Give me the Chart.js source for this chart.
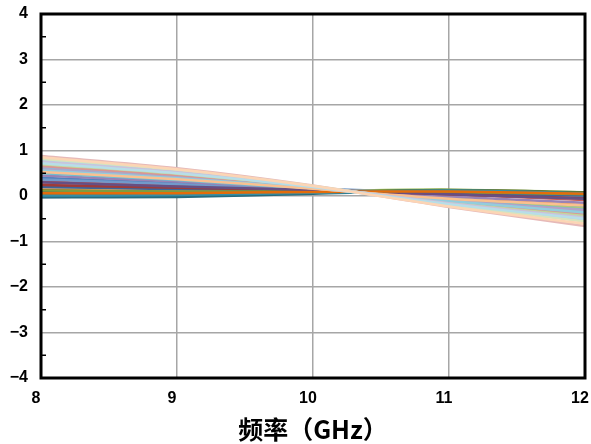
<!DOCTYPE html>
<html>
<head>
<meta charset="utf-8">
<script src="https://cdn.jsdelivr.net/npm/chart.js@4.4.0/dist/chart.umd.min.js"></script>
<style>
  html, body { margin: 0; padding: 0; background: #fff; }
  #wrap { width: 591px; height: 444px; }
</style>
</head>
<body>
<div id="wrap"><canvas id="chart" width="591" height="444"></canvas></div>
<script>
// Frequency points (GHz)
const freq = [8, 9, 10, 11, 12];

// Series values, one row per curve, values at 8..12 GHz
const seriesValues = [
    [0.40, 0.28, 0.16, 0.08, 0.01],
    [0.32, 0.23, 0.14, 0.04, -0.09],
    [0.55, 0.38, 0.17, -0.05, -0.20],
    [0.28, 0.20, 0.13, 0.05, -0.03],
    [0.52, 0.36, 0.15, -0.06, -0.24],
    [0.10, 0.09, 0.11, 0.14, 0.08],
    [-0.02, 0.00, 0.07, 0.12, 0.07],
    [0.22, 0.17, 0.12, 0.04, -0.06],
    [0.15, 0.12, 0.11, 0.08, 0.02],
    [0.08, 0.07, 0.09, 0.09, 0.03],
    [-0.03, -0.02, 0.05, 0.11, 0.06],
    [0.04, 0.05, 0.09, 0.13, 0.08],
    [0.36, 0.26, 0.15, 0.06, -0.02],
    [0.26, 0.19, 0.13, 0.04, -0.07],
    [0.60, 0.42, 0.17, -0.08, -0.27],
    [0.45, 0.32, 0.15, -0.01, -0.15],
    [0.50, 0.35, 0.15, -0.09, -0.30],
    [0.18, 0.14, 0.12, 0.08, 0.03],
    [0.20, 0.15, 0.12, 0.07, 0.01],
    [0.24, 0.18, 0.12, 0.04, -0.05],
    [0.12, 0.10, 0.10, 0.09, 0.04],
    [0.30, 0.21, 0.13, 0.04, -0.06],
    [0.01, 0.02, 0.07, 0.12, 0.06],
    [0.06, 0.06, 0.09, 0.10, 0.05],
    [0.62, 0.43, 0.18, -0.11, -0.34],
    [0.66, 0.46, 0.19, -0.13, -0.40],
    [0.70, 0.49, 0.20, -0.15, -0.44],
    [0.58, 0.40, 0.17, -0.10, -0.31],
    [0.56, 0.39, 0.17, -0.11, -0.36],
    [0.53, 0.37, 0.16, -0.06, -0.21],
    [0.78, 0.54, 0.21, -0.18, -0.52],
    [0.88, 0.61, 0.23, -0.24, -0.66],
    [0.82, 0.57, 0.22, -0.20, -0.56],
    [0.74, 0.52, 0.20, -0.16, -0.47],
    [0.72, 0.50, 0.20, -0.18, -0.50],
    [0.85, 0.59, 0.22, -0.23, -0.61],
];

// Office 2007 style palette: base colours, then shades and tints
const seriesColors = [
    "#4F81BD", "#C0504D", "#F79646", "#8064A2", "#4BACC6", "#9BBB59",
    "#2C4D75", "#772C2A", "#B65708", "#4D3B62", "#276A7C", "#5F7530",
    "#729ACA", "#CD7371", "#AFC97A", "#9983B5", "#6FBDD1", "#F9AB6B",
    "#3A679C", "#9F3B38", "#7E9C40", "#664F83", "#358EA6", "#E46C0A",
    "#95B3D7", "#D99694", "#C3D69B", "#B3A2C7", "#93CDDD", "#FAC090",
    "#B9CDE5", "#E6B9B8", "#D7E4BD", "#CCC1DA", "#B7DEE8", "#FCD5B5",
];

const yTicks = [-4, -3, -2, -1, 0, 1, 2, 3, 4];

const tickFont = { family: "'Liberation Sans', Arial, sans-serif", size: 16, weight: "bold" };

// frame + small inside ticks at the half values on the y axis
const framePlugin = {
    id: "frame",
    afterDraw(chart) {
        const { ctx, chartArea } = chart;
        const yScale = chart.scales.y;
        ctx.save();
        ctx.strokeStyle = "#000";
        ctx.lineWidth = 1.5;
        for (let i = 0; i < yTicks.length - 1; i++) {
            const y = yScale.getPixelForValue((yTicks[i] + yTicks[i + 1]) / 2);
            ctx.beginPath();
            ctx.moveTo(chartArea.left, y);
            ctx.lineTo(chartArea.left + 5, y);
            ctx.stroke();
        }
        ctx.lineWidth = 3;
        ctx.strokeRect(chartArea.left, chartArea.top,
            chartArea.right - chartArea.left, chartArea.bottom - chartArea.top);
        ctx.restore();
    },
};

const datasets = seriesValues.map((vals, i) => ({
    data: vals.map((v, j) => ({ x: freq[j], y: v })),
    borderColor: seriesColors[i],
    borderWidth: 2.5,
    pointRadius: 0,
    tension: 0.3,
    fill: false,
    order: seriesValues.length - i,
}));

new Chart(document.getElementById("chart"), {
    type: "line",
    data: { datasets: datasets },
    options: {
        responsive: false,
        animation: false,
        layout: { padding: { top: 14, right: 6, left: 0, bottom: 0 } },
        plugins: { legend: { display: false }, tooltip: { enabled: false } },
        scales: {
            x: {
                type: "linear",
                min: 8,
                max: 12,
                ticks: { stepSize: 1, color: "#000", font: tickFont, padding: 11, labelOffset: -5 },
                grid: { color: "#A6A6A6", lineWidth: 1.5, drawTicks: false },
                border: { display: false },
                title: {
                    display: true,
                    text: "频率（GHz）",
                    color: "#000",
                    font: { family: "'Noto Sans CJK SC', sans-serif", size: 25, weight: "bold" },
                    padding: { top: 2, bottom: 0 },
                },
                afterFit(scale) {
                    scale.height = 66;
                    scale.paddingLeft = 0;
                    scale.paddingRight = 0;
                },
            },
            y: {
                min: -4,
                max: 4,
                ticks: {
                    stepSize: 1,
                    color: "#000",
                    font: tickFont,
                    padding: 13,
                    callback: (v) => (v < 0 ? "\u2212" + Math.abs(v) : String(v)),
                },
                grid: { color: "#A6A6A6", lineWidth: 1.5, drawTicks: false },
                border: { display: false },
                afterFit(scale) {
                    scale.width = 41;
                    scale.paddingTop = 0;
                    scale.paddingBottom = 0;
                },
            },
        },
    },
    plugins: [framePlugin],
});
</script>
</body>
</html>
